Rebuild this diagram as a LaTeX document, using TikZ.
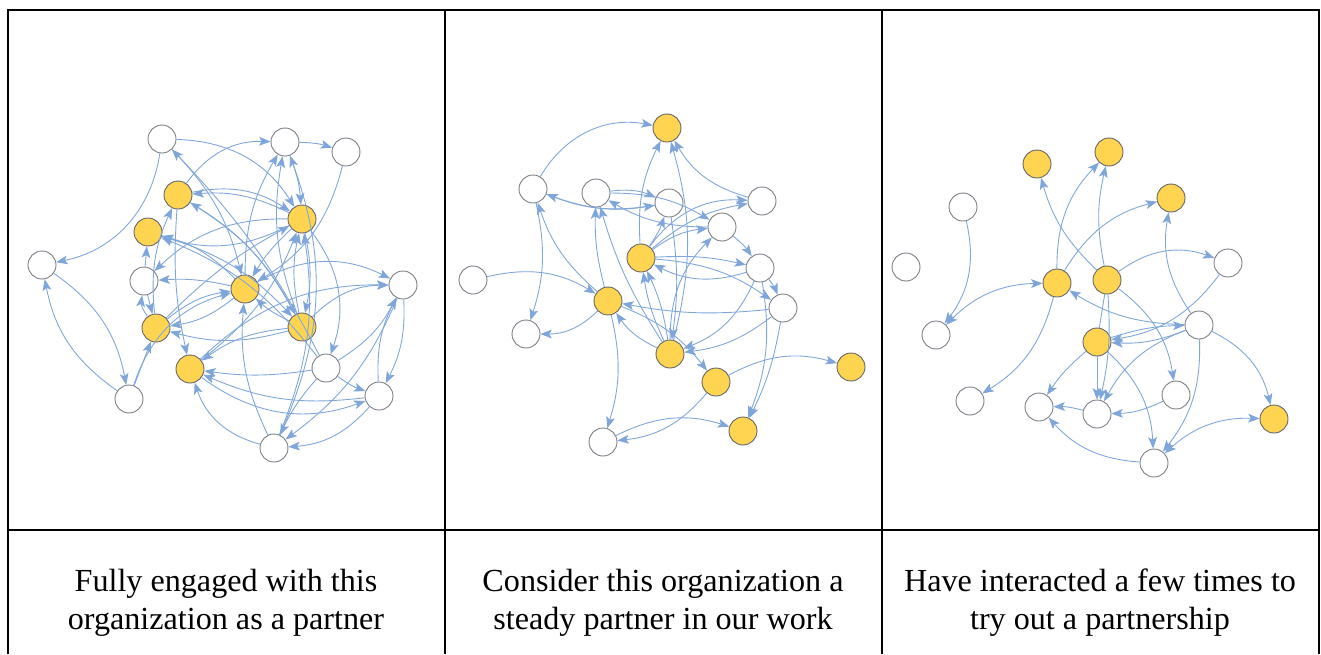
\documentclass[tikz,border=0pt]{standalone}
\usepackage{fontspec}
\setmainfont{Liberation Serif}
\usepackage{tikz}
\usetikzlibrary{arrows.meta}

\definecolor{linkblue}{RGB}{126,166,218}
\definecolor{orgyellow}{RGB}{255,212,80}
\definecolor{orgline}{RGB}{120,124,132}

\begin{document}
\begin{tikzpicture}[x=0.02cm,y=-0.02cm,
    org/.style={circle,draw=orgline,line width=0.5pt,fill=white,minimum size=0.56cm,inner sep=0pt},
    key/.style={org,fill=orgyellow,draw=orgline!80!black},
    link/.style={draw,color=linkblue,line width=0.5pt,->,>={Stealth[length=6.5pt,width=5pt,inset=1.5pt]}},
    caption/.style={align=center,font=\fontsize{18.3}{21.5}\selectfont}]

  \useasboundingbox (0,0) rectangle (1321,654);

  % table
  \draw [line width=1.2pt] (8,654) -- (8,10) -- (1319,10) -- (1319,654);
  \draw [line width=1.2pt] (445,10) -- (445,654) (882,10) -- (882,654);
  \draw [line width=1.2pt] (8,530) -- (1319,530);

  % fully engaged
  \node [org] (f1)  at (162,139) {};
  \node [org] (f2)  at (285,142) {};
  \node [org] (f3)  at (346,152) {};
  \node [key] (f4)  at (178,195) {};
  \node [key] (f5)  at (302,219) {};
  \node [key] (f6)  at (148,232) {};
  \node [org] (f7)  at (42,265) {};
  \node [org] (f8)  at (144,281) {};
  \node [key] (f9)  at (245,289) {};
  \node [org] (f10) at (403,285) {};
  \node [key] (f11) at (156,328) {};
  \node [key] (f12) at (302,327) {};
  \node [key] (f13) at (190,369) {};
  \node [org] (f14) at (326,368) {};
  \node [org] (f15) at (129,399) {};
  \node [org] (f16) at (379,396) {};
  \node [org] (f17) at (274,448) {};

  \path [link]
    (f1)  edge [bend left=35] (f7)
    (f7)  edge [bend left=22] (f15)
    (f15) edge [bend left=22] (f7)
    (f2)  edge [bend left=8] (f3)
    (f1)  edge [bend left=28] (f5)
    (f1)  edge [bend left=15] (f9)
    (f4)  edge [bend left=28] (f2)
    (f14) edge [bend right=8] (f1)
    (f3)  edge [bend left=22] (f9)
    (f8)  edge (f6)
    (f9)  edge [bend right=8] (f8)
    (f5)  edge [bend left=22] (f6)
    (f5)  edge [bend right=15] (f4)
    (f4)  edge [bend left=22] (f5)
    (f11) edge [bend left=15] (f4)
    (f12) edge [bend right=15] (f4)
    (f9)  edge [bend left=15] (f2)
    (f12) edge [bend left=15] (f2)
    (f17) edge [bend right=22] (f2)
    (f2)  edge [bend left=8] (f5)
    (f5)  edge [bend right=8] (f9)
    (f12) edge [bend left=12] (f5)
    (f5)  edge [bend left=12] (f12)
    (f5)  edge [bend left=28] (f14)
    (f9)  edge [bend left=28] (f10)
    (f12) edge [bend left=22] (f10)
    (f10) edge [bend left=15] (f16)
    (f16) edge [bend left=15] (f10)
    (f14) edge [bend right=8] (f16)
    (f13) edge [bend right=28] (f16)
    (f16) edge [bend left=22] (f17)
    (f10) edge [bend left=15] (f17)
    (f14) edge [bend right=8] (f17)
    (f17) edge [bend left=15] (f9)
    (f17) edge [bend right=15] (f5)
    (f16) edge [bend left=15] (f13)
    (f14) edge [bend left=8] (f13)
    (f12) edge [bend right=15] (f13)
    (f12) edge [bend left=8] (f9)
    (f9)  edge [bend left=15] (f11)
    (f11) edge [bend left=15] (f9)
    (f12) edge [bend left=15] (f11)
    (f9)  edge [bend right=15] (f6)
    (f14) edge [bend right=15] (f6)
    (f5)  edge [bend right=22] (f8)
    (f15) edge (f11)
    (f15) edge [bend left=28] (f9)
    (f8)  edge (f11)
    (f11) edge [bend left=22] (f8)
    (f13) edge [bend right=15] (f5)
    (f11) edge [bend left=8] (f5)
    (f4)  edge [bend left=15] (f12)
    (f4)  edge [bend right=8] (f13)
    (f17) edge [bend left=28] (f13)
    (f13) edge [bend left=22] (f10)
    (f14) edge [bend right=15] (f10)
    (f6)  edge [bend left=15] (f12);

  % steady partner
  \node [key] (s1)  at (667,128) {};
  \node [org] (s2)  at (533,189) {};
  \node [org] (s3)  at (596,193) {};
  \node [org] (s4)  at (669,203) {};
  \node [org] (s5)  at (762,201) {};
  \node [org] (s6)  at (722,227) {};
  \node [key] (s7)  at (641,258) {};
  \node [org] (s8)  at (473,280) {};
  \node [org] (s9)  at (760,268) {};
  \node [key] (s10) at (608,301) {};
  \node [org] (s11) at (783,308) {};
  \node [org] (s12) at (526,334) {};
  \node [key] (s13) at (670,354) {};
  \node [key] (s14) at (716,382) {};
  \node [key] (s15) at (851,367) {};
  \node [key] (s16) at (743,431) {};
  \node [org] (s17) at (603,442) {};

  \path [link]
    (s2)  edge [bend left=35] (s1)
    (s8)  edge [bend left=22] (s10)
    (s10) edge [bend left=22] (s12)
    (s2)  edge [bend left=15] (s12)
    (s10) edge [bend left=15] (s2)
    (s4)  edge [bend left=15] (s2)
    (s3)  edge [bend left=15] (s6)
    (s6)  edge [bend left=15] (s3)
    (s10) edge [bend left=8] (s3)
    (s13) edge [bend left=8] (s3)
    (s7)  edge [bend right=8] (s4)
    (s7)  edge [bend left=15] (s1)
    (s13) edge [bend right=15] (s1)
    (s5)  edge [bend left=22] (s1)
    (s7)  edge [bend left=15] (s5)
    (s7)  edge [bend left=28] (s5)
    (s7)  edge [bend left=15] (s6)
    (s7)  edge [bend left=8] (s9)
    (s9)  edge [bend left=22] (s7)
    (s7)  edge [bend left=15] (s11)
    (s11) edge [bend left=8] (s10)
    (s13) edge [bend left=8] (s7)
    (s13) edge [bend right=8] (s7)
    (s13) edge [bend left=15] (s10)
    (s10) edge [bend left=15] (s14)
    (s9)  edge [bend left=22] (s13)
    (s11) edge [bend left=15] (s13)
    (s4)  edge [bend left=8] (s13)
    (s13) edge [bend left=22] (s6)
    (s6)  edge [bend left=8] (s9)
    (s9)  edge [bend left=8] (s11)
    (s11) edge [bend left=8] (s16)
    (s9)  edge [bend left=15] (s16)
    (s14) edge [bend left=22] (s15)
    (s14) edge [bend left=22] (s17)
    (s17) edge [bend left=22] (s16)
    (s10) edge [bend left=15] (s17)
    (s3)  edge [bend left=15] (s4)
    (s2)  edge [bend right=15] (s4);

  % trying out
  \node [key] (t1)  at (1037,164) {};
  \node [key] (t2)  at (1109,152) {};
  \node [key] (t3)  at (1171,198) {};
  \node [org] (t4)  at (963,207) {};
  \node [org] (t5)  at (906,267) {};
  \node [org] (t6)  at (1228,263) {};
  \node [key] (t7)  at (1057,283) {};
  \node [key] (t8)  at (1107,280) {};
  \node [org] (t9)  at (936,335) {};
  \node [org] (t11) at (1199,325) {};
  \node [key] (t13) at (1097,342) {};
  \node [org] (t10) at (970,401) {};
  \node [org] (t12) at (1039,407) {};
  \node [org] (t14) at (1097,414) {};
  \node [org] (t15) at (1176,395) {};
  \node [key] (t16) at (1274,419) {};
  \node [org] (t17) at (1154,463) {};

  \path [link]
    (t4)  edge [bend left=25] (t9)
    (t9)  edge [<->,bend left=22] (t7)
    (t7)  edge [bend left=22] (t2)
    (t7)  edge [bend left=22] (t3)
    (t7)  edge [bend left=22] (t10)
    (t8)  edge [bend left=15] (t1)
    (t8)  edge [bend left=12] (t2)
    (t8)  edge [bend left=28] (t6)
    (t8)  edge [bend left=22] (t15)
    (t8)  edge [bend left=8] (t14)
    (t13) edge [-] (t8)
    (t11) edge [bend left=15] (t7)
    (t11) edge [bend left=12] (t13)
    (t6)  edge [bend left=22] (t13)
    (t13) edge [bend left=8] (t11)
    (t11) edge [bend left=22] (t3)
    (t11) edge [bend left=25] (t16)
    (t11) edge [bend left=20] (t17)
    (t11) edge [bend right=20] (t14)
    (t13) edge [bend right=8] (t12)
    (t13) edge (t14)
    (t13) edge [bend left=22] (t17)
    (t14) edge [bend right=8] (t12)
    (t15) edge [bend left=12] (t14)
    (t17) edge [bend left=22] (t12)
    (t16) edge [<->,bend right=22] (t17);

  % captions
  \node [caption] (cap1) at (226,603) {Fully engaged with this\\organization as a partner};
  \node [caption] (cap2) at (663,603) {Consider this organization a\\steady partner in our work};
  \node [caption] (cap3) at (1100,603) {Have interacted a few times to\\try out a partnership};

\end{tikzpicture}
\end{document}
